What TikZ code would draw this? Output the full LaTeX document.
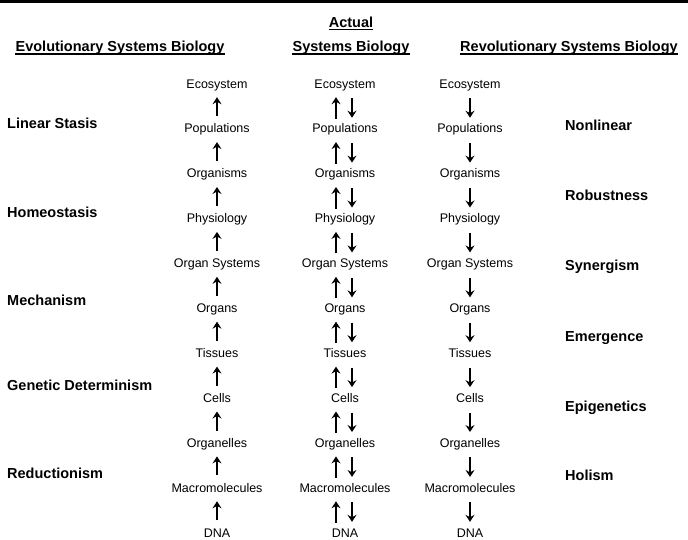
\documentclass[tikz,border=0pt]{standalone}
\usepackage{fontspec}
\setmainfont{Liberation Sans}
\usetikzlibrary{arrows.meta}

\begin{document}
\begin{tikzpicture}[x=1pt,y=-1pt,
  level/.style={inner sep=0pt,anchor=base,text height=9pt,text depth=3pt,font=\fontsize{12.5}{14}\selectfont},
  heading/.style={inner sep=0pt,anchor=base,font=\fontsize{14.5}{17}\selectfont\bfseries},
  view/.style={inner sep=0pt,anchor=base west,font=\fontsize{14.5}{17}\selectfont\bfseries},
  uline/.style={line width=1.1pt},
  tip/.style={-{Stealth[length=7pt,width=9pt,inset=2.5pt]},line width=1.4pt},
  evoup/.style={tip,shorten <=7.5pt,shorten >=6pt},
  actup/.style={tip,shorten <=5pt,shorten >=6pt},
  actdown/.style={tip,shorten <=7pt,shorten >=6pt}]
\useasboundingbox (0,0) rectangle (688,539);
\fill (0,0) rectangle (688,3);

% headings
\node[heading] (evo) at (120,51.5) {Evolutionary Systems Biology};
\node[heading] (act) at (351,27) {Actual};
\node[heading] (sys) at (351,51.5) {Systems Biology};
\node[heading] (rev) at (569,51.5) {Revolutionary Systems Biology};
\draw[uline] ([yshift=-2.5pt]evo.base west) -- ([yshift=-2.5pt]evo.base east);
\draw[uline] ([yshift=-2.5pt]act.base west) -- ([yshift=-2.5pt]act.base east);
\draw[uline] ([yshift=-2.5pt]sys.base west) -- ([yshift=-2.5pt]sys.base east);
\draw[uline] ([yshift=-2.5pt]rev.base west) -- ([yshift=-2.5pt]rev.base east);

% left column: views
\node[view] (v1) at (7,128) {Linear Stasis};
\node[view] (v2) at (7,217) {Homeostasis};
\node[view] (v3) at (7,305) {Mechanism};
\node[view] (v4) at (7,390) {Genetic Determinism};
\node[view] (v5) at (7,478) {Reductionism};

% right column: views
\node[view] (w1) at (565,130) {Nonlinear};
\node[view] (w2) at (565,200) {Robustness};
\node[view] (w3) at (565,270) {Synergism};
\node[view] (w4) at (565,341) {Emergence};
\node[view] (w5) at (565,411) {Epigenetics};
\node[view] (w6) at (565,480) {Holism};

% levels, evolutionary
\node[level] (e1) at (217,88) {Ecosystem};
\node[level] (e2) at (217,132.9) {Populations};
\node[level] (e3) at (217,177.8) {Organisms};
\node[level] (e4) at (217,222.7) {Physiology};
\node[level] (e5) at (217,267.6) {Organ Systems};
\node[level] (e6) at (217,312.5) {Organs};
\node[level] (e7) at (217,357.4) {Tissues};
\node[level] (e8) at (217,402.3) {Cells};
\node[level] (e9) at (217,447.2) {Organelles};
\node[level] (e10) at (217,492.1) {Macromolecules};
\node[level] (e11) at (217,537) {DNA};

% levels, actual
\node[level] (a1) at (345,88) {Ecosystem};
\node[level] (a2) at (345,132.9) {Populations};
\node[level] (a3) at (345,177.8) {Organisms};
\node[level] (a4) at (345,222.7) {Physiology};
\node[level] (a5) at (345,267.6) {Organ Systems};
\node[level] (a6) at (345,312.5) {Organs};
\node[level] (a7) at (345,357.4) {Tissues};
\node[level] (a8) at (345,402.3) {Cells};
\node[level] (a9) at (345,447.2) {Organelles};
\node[level] (a10) at (345,492.1) {Macromolecules};
\node[level] (a11) at (345,537) {DNA};

% levels, revolutionary
\node[level] (r1) at (470,88) {Ecosystem};
\node[level] (r2) at (470,132.9) {Populations};
\node[level] (r3) at (470,177.8) {Organisms};
\node[level] (r4) at (470,222.7) {Physiology};
\node[level] (r5) at (470,267.6) {Organ Systems};
\node[level] (r6) at (470,312.5) {Organs};
\node[level] (r7) at (470,357.4) {Tissues};
\node[level] (r8) at (470,402.3) {Cells};
\node[level] (r9) at (470,447.2) {Organelles};
\node[level] (r10) at (470,492.1) {Macromolecules};
\node[level] (r11) at (470,537) {DNA};

% bottom-up
\draw[evoup] (e2.north) -- (e1.south);
\draw[evoup] (e3.north) -- (e2.south);
\draw[evoup] (e4.north) -- (e3.south);
\draw[evoup] (e5.north) -- (e4.south);
\draw[evoup] (e6.north) -- (e5.south);
\draw[evoup] (e7.north) -- (e6.south);
\draw[evoup] (e8.north) -- (e7.south);
\draw[evoup] (e9.north) -- (e8.south);
\draw[evoup] (e10.north) -- (e9.south);
\draw[evoup] (e11.north) -- (e10.south);

% both ways
\draw[actup] ([xshift=-9pt]a2.north) -- ([xshift=-9pt]a1.south);
\draw[actup] ([xshift=-9pt]a3.north) -- ([xshift=-9pt]a2.south);
\draw[actup] ([xshift=-9pt]a4.north) -- ([xshift=-9pt]a3.south);
\draw[actup] ([xshift=-9pt]a5.north) -- ([xshift=-9pt]a4.south);
\draw[actup] ([xshift=-9pt]a6.north) -- ([xshift=-9pt]a5.south);
\draw[actup] ([xshift=-9pt]a7.north) -- ([xshift=-9pt]a6.south);
\draw[actup] ([xshift=-9pt]a8.north) -- ([xshift=-9pt]a7.south);
\draw[actup] ([xshift=-9pt]a9.north) -- ([xshift=-9pt]a8.south);
\draw[actup] ([xshift=-9pt]a10.north) -- ([xshift=-9pt]a9.south);
\draw[actup] ([xshift=-9pt]a11.north) -- ([xshift=-9pt]a10.south);
\draw[actdown] ([xshift=7pt]a1.south) -- ([xshift=7pt]a2.north);
\draw[actdown] ([xshift=7pt]a2.south) -- ([xshift=7pt]a3.north);
\draw[actdown] ([xshift=7pt]a3.south) -- ([xshift=7pt]a4.north);
\draw[actdown] ([xshift=7pt]a4.south) -- ([xshift=7pt]a5.north);
\draw[actdown] ([xshift=7pt]a5.south) -- ([xshift=7pt]a6.north);
\draw[actdown] ([xshift=7pt]a6.south) -- ([xshift=7pt]a7.north);
\draw[actdown] ([xshift=7pt]a7.south) -- ([xshift=7pt]a8.north);
\draw[actdown] ([xshift=7pt]a8.south) -- ([xshift=7pt]a9.north);
\draw[actdown] ([xshift=7pt]a9.south) -- ([xshift=7pt]a10.north);
\draw[actdown] ([xshift=7pt]a10.south) -- ([xshift=7pt]a11.north);

% top-down
\draw[actdown] (r1.south) -- (r2.north);
\draw[actdown] (r2.south) -- (r3.north);
\draw[actdown] (r3.south) -- (r4.north);
\draw[actdown] (r4.south) -- (r5.north);
\draw[actdown] (r5.south) -- (r6.north);
\draw[actdown] (r6.south) -- (r7.north);
\draw[actdown] (r7.south) -- (r8.north);
\draw[actdown] (r8.south) -- (r9.north);
\draw[actdown] (r9.south) -- (r10.north);
\draw[actdown] (r10.south) -- (r11.north);
\end{tikzpicture}
\end{document}
